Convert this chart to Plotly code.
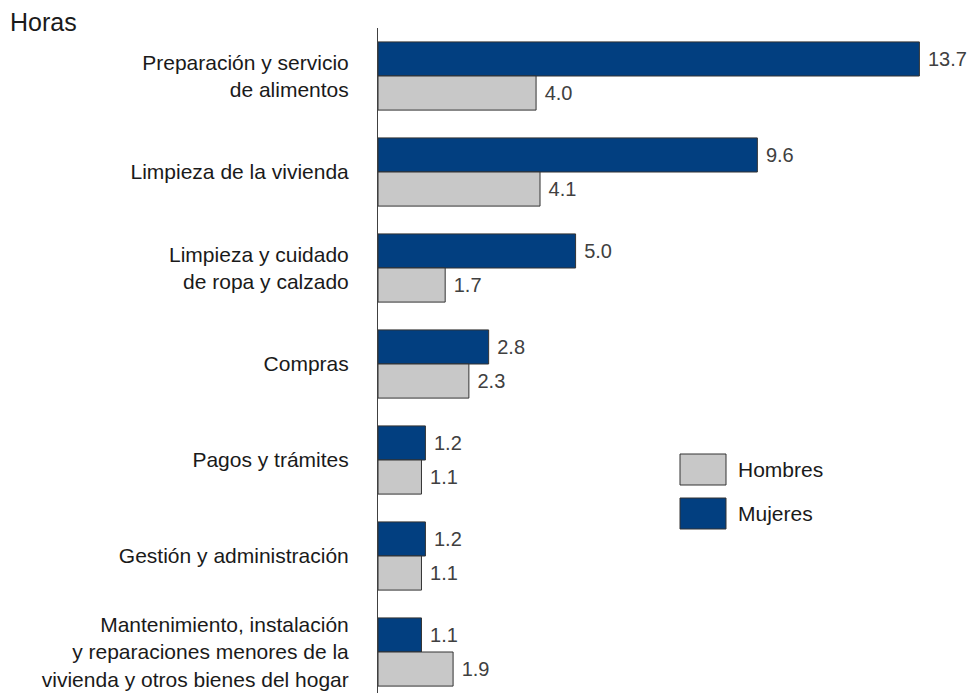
import plotly.graph_objects as go

categories = [
    "Preparación y servicio<br>de alimentos",
    "Limpieza de la vivienda",
    "Limpieza y cuidado<br>de ropa y calzado",
    "Compras",
    "Pagos y trámites",
    "Gestión y administración",
    "Mantenimiento, instalación<br>y reparaciones menores de la<br>vivienda y otros bienes del hogar",
]
mujeres = [13.7, 9.6, 5.0, 2.8, 1.2, 1.2, 1.1]
hombres = [4.0, 4.1, 1.7, 2.3, 1.1, 1.1, 1.9]

COL_M = "#023f80"
COL_H = "#c8c8c8"
EDGE = "#333333"
FONT = "Arial"

W, H = 968, 693
L, T, B = 378, 28, 0
XMAX = 14.5
PW = 573
R = W - L - PW
PH = H - T - B

fig = go.Figure()
for name, vals, col in [("Mujeres", mujeres, COL_M), ("Hombres", hombres, COL_H)]:
    fig.add_trace(go.Bar(
        y=categories, x=vals, name=name, orientation="h",
        marker=dict(color=col, line=dict(color=EDGE, width=1)),
        text=vals, texttemplate="\u00a0%{x:.1f}", textposition="outside",
        textfont=dict(family=FONT, size=20, color="#404040"),
        constraintext="none", cliponaxis=False, showlegend=False,
        hoverinfo="x+name",
    ))

def px_x(px):
    return (px - L) / PW

def px_y(py):
    return (H - B - py) / PH

# legend drawn as shapes + annotations (pixel positions on the page)
legend_items = [("Hombres", COL_H, 454, 485), ("Mujeres", COL_M, 498, 529)]
shapes = []
annotations = []
for name, col, y0, y1 in legend_items:
    shapes.append(dict(type="rect", xref="paper", yref="paper",
                       x0=px_x(680), x1=px_x(726), y0=px_y(y1), y1=px_y(y0),
                       fillcolor=col, line=dict(color=EDGE, width=1)))
    annotations.append(dict(xref="paper", yref="paper", x=px_x(736), y=px_y((y0 + y1) / 2),
                            text=name, showarrow=False, xanchor="left", yanchor="middle",
                            font=dict(family=FONT, size=21, color="#1a1a1a")))

fig.update_layout(
    width=W, height=H,
    margin=dict(l=L, r=R, t=T, b=B, pad=0, autoexpand=False),
    barmode="group", bargap=0.29, bargroupgap=0,
    plot_bgcolor="white", paper_bgcolor="white",
    title=dict(text="Horas", x=10 / W, xanchor="left", xref="container",
               y=1 - 22 / H, yanchor="middle", yref="container",
               font=dict(family=FONT, size=25, color="#1a1a1a")),
    xaxis=dict(range=[0, XMAX], visible=False, showgrid=False, zeroline=False,
               automargin=False),
    yaxis=dict(categoryorder="array", categoryarray=categories,
               range=[(H - B - 76) / 96, -0.5], automargin=False,
               showline=True, linecolor="#404040", linewidth=1,
               showgrid=False, zeroline=False, ticks="", ticklabelstandoff=24,
               tickfont=dict(family=FONT, size=21, color="#1a1a1a")),
    shapes=shapes, annotations=annotations,
)

fig.write_html("out.html",
               config={"displayModeBar": False},
               post_script="document.body.style.margin='0px';document.body.style.overflow='hidden';")
